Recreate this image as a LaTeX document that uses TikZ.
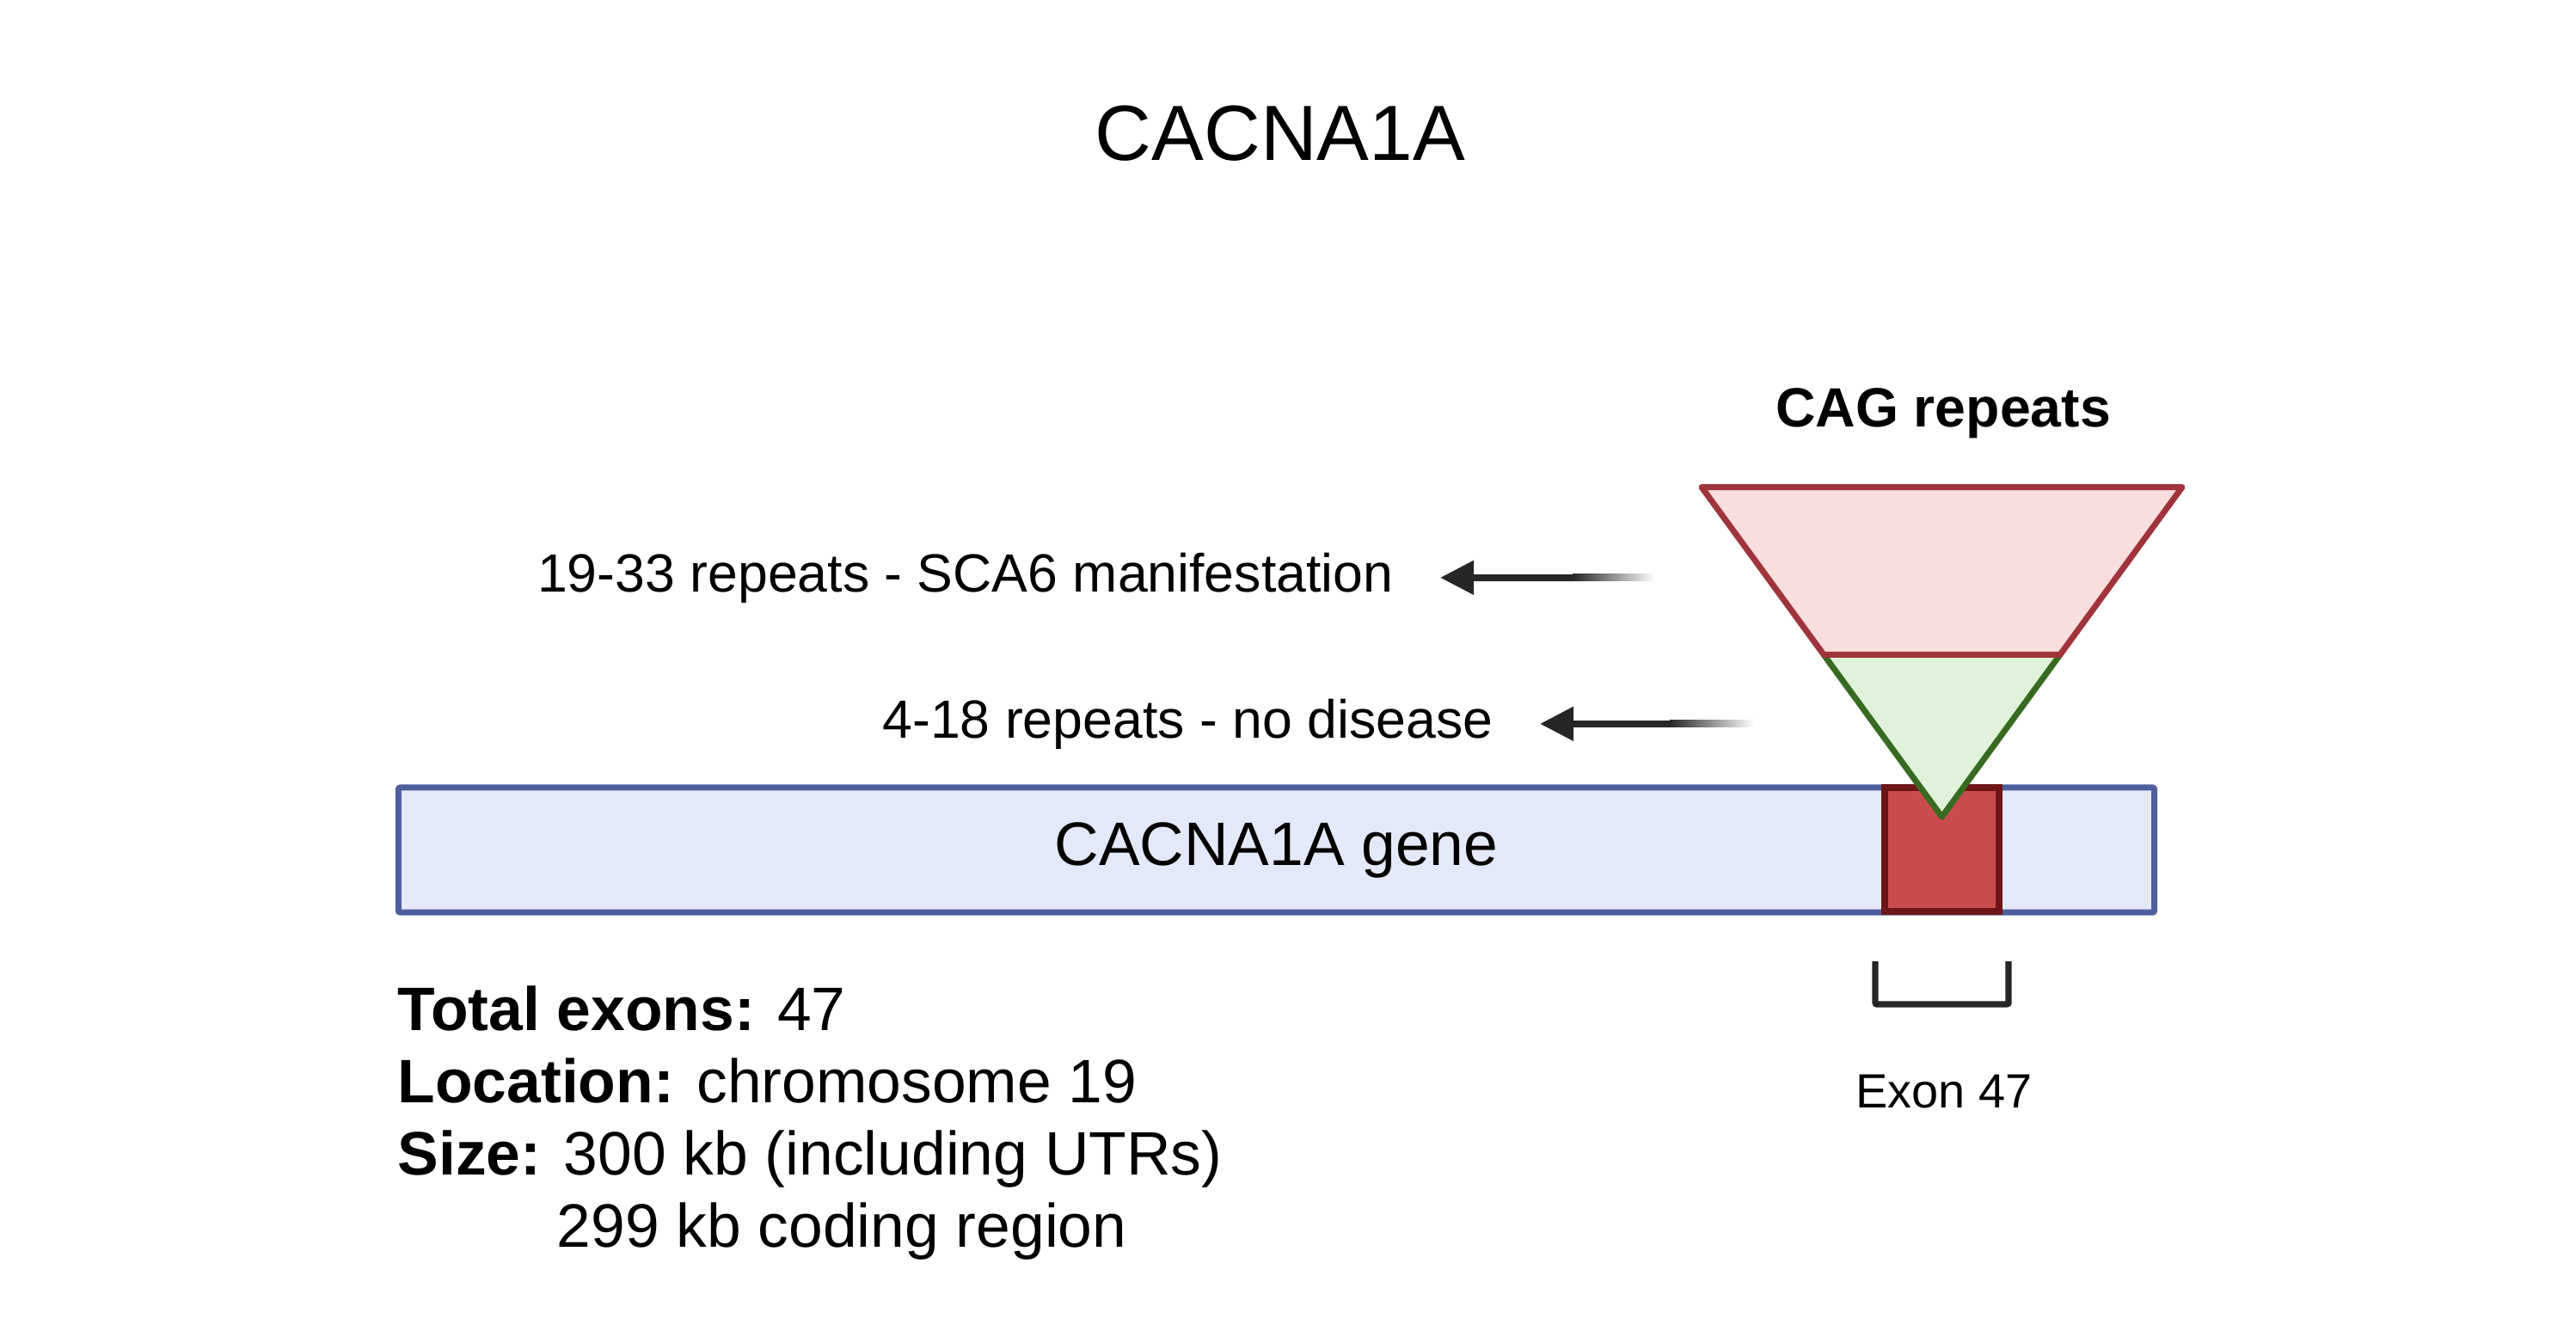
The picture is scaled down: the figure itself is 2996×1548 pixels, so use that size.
\documentclass[tikz,border=0pt]{standalone}
\usepackage{fontspec}
\setmainfont{Liberation Sans}
\usepackage{tikz}
\usetikzlibrary{calc,arrows.meta}

\definecolor{genefill}{HTML}{E3E9F8}
\definecolor{genedraw}{HTML}{4F5F9E}
\definecolor{exonfill}{HTML}{C94C4C}
\definecolor{exondraw}{HTML}{6E1518}
\definecolor{redfill}{HTML}{F9DEDE}
\definecolor{reddraw}{HTML}{A0343C}
\definecolor{greenfill}{HTML}{E0F3DA}
\definecolor{greendraw}{HTML}{386B21}
\definecolor{arrowgray}{HTML}{262626}

\begin{document}
\begin{tikzpicture}[x=0.01cm, y=-0.01cm,
    lbl/.style={inner sep=0pt, font=\fontsize{17.8}{21}\selectfont},
    info/.style={inner sep=0pt, anchor=base west, font=\fontsize{20.3}{24}\selectfont},
    ptr/.style={draw=arrowgray, line width=0.08cm, -{Triangle[length=0.39cm, width=0.38cm]}},
    fadebar/.style={left color=arrowgray, right color=white}]
    \useasboundingbox (0,0) rectangle (2996,1548);

    % Title
    \node[inner sep=0pt, anchor=base, font=\fontsize{25.9}{31}\selectfont] (title) at (1489,186) {CACNA1A};

    % Gene bar
    \node[draw=genedraw, fill=genefill, line width=0.07cm, rounded corners=0.02cm,
          minimum width=20.41cm, minimum height=1.45cm,
          font=\fontsize{20.3}{24}\selectfont] (gene) at (1484.5,988.5) {CACNA1A gene};

    % Exon 47 box
    \node[draw=exondraw, fill=exonfill, line width=0.08cm, inner sep=0pt,
          minimum width=1.33cm, minimum height=1.44cm] (exon) at (2258.5,988.3) {};

    % CAG repeats triangle
    \coordinate (tl) at (1979,566.5);
    \coordinate (tr) at (2538,566.5);
    \coordinate (apex) at (2258.5,950);
    \coordinate (ml) at ($(tl)!0.508!(apex)$);
    \coordinate (mr) at ($(tr)!0.508!(apex)$);
    \draw[draw=greendraw, fill=greenfill, line width=0.07cm, line join=round] (ml) -- (apex) -- (mr) -- cycle;
    \draw[draw=reddraw, fill=redfill, line width=0.07cm, line join=round] (tl) -- (tr) -- (mr) -- (ml) -- cycle;
    \node[inner sep=0pt, anchor=base, font=\bfseries\fontsize{18.3}{22}\selectfont] (cag) at (2260,496) {CAG repeats};

    % Repeat ranges
    \node[lbl, anchor=base east, inner xsep=0.54cm] (sca) at (1675,688) {19-33 repeats - SCA6 manifestation};
    \node[lbl, anchor=base east, inner xsep=0.54cm] (nod) at (1791,858) {4-18 repeats - no disease};
    \coordinate (scasolid) at (1830,673);
    \coordinate (scafade) at (1925,673);
    \coordinate (nodsolid) at (1943,839);
    \coordinate (nodfade) at (2040,839);
    \draw[ptr] (sca.east -| scasolid) -- (sca.east);
    \shade[fadebar] ($(sca.east -| scasolid)+(-1,-4)$) rectangle ($(sca.east -| scafade)+(0,4)$);
    \draw[ptr] (nod.east -| nodsolid) -- (nod.east);
    \shade[fadebar] ($(nod.east -| nodsolid)+(-1,-4)$) rectangle ($(nod.east -| nodfade)+(0,4)$);

    % Exon bracket
    \coordinate (brl) at (2181,1118);
    \coordinate (brr) at (2336,1118);
    \draw[arrowgray, line width=0.073cm, rounded corners=0.02cm] (brl) -- ++(0,50) -| (brr);
    \node[inner sep=0pt, anchor=base, font=\fontsize{15.9}{19}\selectfont] (exlbl) at (2261,1288) {Exon 47};

    % Gene facts
    \node[info] (tot) at (462,1198) {\textbf{Total exons:} 47};
    \node[info] (loc) at (462,1282) {\textbf{Location:} chromosome 19};
    \node[info] (siz) at (462,1366) {\textbf{Size:} 300 kb (including UTRs)};
    \node[info] (cod) at (647,1450) {299 kb coding region};
\end{tikzpicture}
\end{document}
